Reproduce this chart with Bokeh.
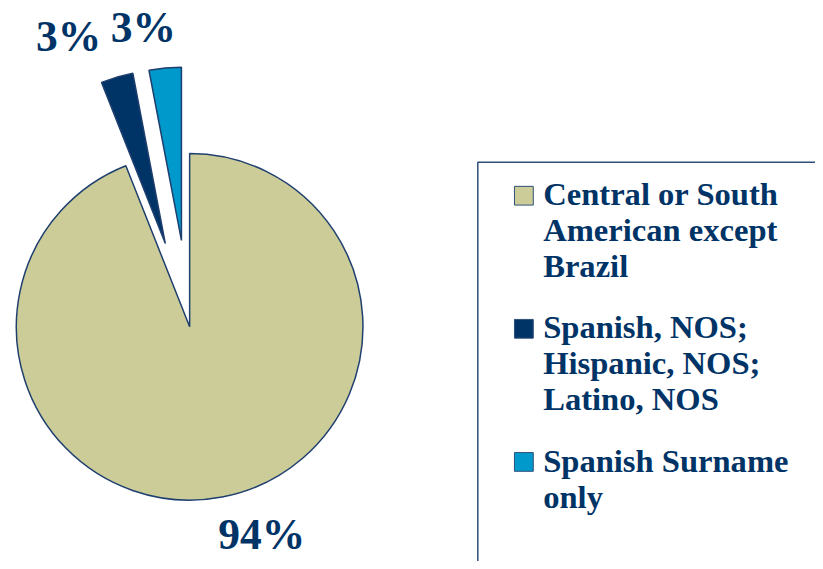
import numpy as np
from bokeh.plotting import figure
from bokeh.models import Range1d, ColumnDataSource
from bokeh.core.properties import value
from bokeh.embed import file_html
from bokeh.resources import INLINE

# ---- data ----
categories = ["Central or South\nAmerican except\nBrazil",
              "Spanish, NOS;\nHispanic, NOS;\nLatino, NOS",
              "Spanish Surname\nonly"]
shares = [94, 3, 3]
pct_labels = ["94%", "3%", "3%"]
colors = ["#CCCC99", "#003366", "#0099CC"]

# ---- layout / style ----
explode = [0, 88, 88]              # px, slice pull-out
label_radius = [237, 305, 293]     # px from pie center
label_nudge = [7.1, 7.4, 3.8]      # degrees
TEXT = "#003366"
FONT = value("Liberation Serif")
PCT_FS = 43.5
LEG_FS = 32.6
BASE_FIX = 0.35                    # renderer baseline compensation (em)

W, H = 815, 561
REF_W, REF_H = 823, 569

def Y(y):  # reference y (down) -> data y (up)
    return REF_H - y

p = figure(width=W, height=H, output_backend="svg", toolbar_location=None,
           x_range=Range1d(0, REF_W), y_range=Range1d(0, REF_H),
           x_axis_type=None, y_axis_type=None, min_border=0)
p.grid.visible = False
p.outline_line_color = None
p.background_fill_color = "white"

cx, cy, R = 191, Y(331), 175

vals = np.array(shares, dtype=float)
frac = vals / vals.sum() * 2 * np.pi
cum = np.cumsum(frac)
prev = cum - frac
start_cw = np.pi / 2 - prev
end_cw = np.pi / 2 - cum
mid = (start_cw + end_cw) / 2
ex = np.array(explode, dtype=float)
xs = cx + ex * np.cos(mid)
ys = cy + ex * np.sin(mid)

src = ColumnDataSource(dict(x=xs, y=ys, start=end_cw, end=start_cw, color=colors))
p.wedge(x="x", y="y", radius=R, start_angle="start", end_angle="end",
        direction="anticlock", fill_color="color", line_color="#1F3F6F",
        line_width=1.5, source=src)

la = mid + np.radians(label_nudge)
lr = np.array(label_radius, dtype=float)
lsrc = ColumnDataSource(dict(x=cx + lr * np.cos(la),
                             y=cy + lr * np.sin(la) + BASE_FIX * PCT_FS,
                             t=pct_labels))
p.text(x="x", y="y", text="t", source=lsrc, text_font=FONT, text_font_style="bold",
       text_font_size=f"{PCT_FS}px", text_color=TEXT, text_align="center",
       text_baseline="alphabetic")

# ---- legend (drawn manually) ----
box_left, box_top = 482, 164
p.quad(left=[box_left], right=[900], top=[Y(box_top)], bottom=[Y(640)],
       fill_color=None, line_color="#2F4F7A", line_width=1.5)

first_base = 208
pitch = 135
line_h = 36.5
sq = 19
sq_x = 528.5
txt_x = 548
sqx, sqy, tx, ty, tt = [], [], [], [], []
for i, lab in enumerate(categories):
    base = first_base + i * pitch
    sqx.append(sq_x)
    sqy.append(Y(base - sq / 2 - 0.5))
    for j, line in enumerate(lab.split("\n")):
        tx.append(txt_x)
        ty.append(Y(base + j * line_h) + BASE_FIX * LEG_FS)
        tt.append(line)

p.rect(x=sqx, y=sqy, width=sq, height=sq, fill_color=colors,
       line_color="#2F4F7A", line_width=1)
p.text(x=tx, y=ty, text=tt, text_font=FONT, text_font_style="bold",
       text_font_size=f"{LEG_FS}px", text_color=TEXT, text_align="left",
       text_baseline="alphabetic")

open("out.html", "w").write(file_html(p, INLINE))
